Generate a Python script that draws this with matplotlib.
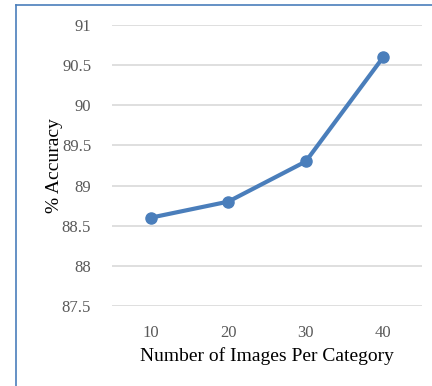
import matplotlib
matplotlib.use("Agg")
import matplotlib.pyplot as plt
from matplotlib.lines import Line2D

categories = ["10", "20", "30", "40"]
accuracy = [88.6, 88.8, 89.3, 90.6]
yticks = [87.5, 88, 88.5, 89, 89.5, 90, 90.5, 91]
ytick_labels = ["87.5", "88", "88.5", "89", "89.5", "90", "90.5", "91"]

plt.rcParams['font.family'] = ['Liberation Serif', 'DejaVu Serif']

W, H = 432, 386
fig = plt.figure(figsize=(W/100, H/100), dpi=100)
ax = fig.add_axes([112/W, 1-306/H, (422-112)/W, (306-25)/H])

x = range(len(categories))
ax.plot(x, accuracy, color='#4a7ebb', linewidth=3, marker='o', markersize=8,
        solid_capstyle='round', zorder=3)
ax.set_xlim(-0.5, len(categories)-0.5)
ax.set_ylim(87.5, 91)
ax.set_xticks(list(x))
ax.set_xticklabels(categories)
ax.set_yticks(yticks)
ax.set_yticklabels(ytick_labels)
ax.grid(axis='y', color='#d9d9d9', linewidth=1.2)
ax.set_axisbelow(True)
for s in ax.spines.values():
    s.set_visible(False)
ax.tick_params(axis='both', length=0, labelsize=12, colors='#595959')
ax.tick_params(axis='y', pad=15)
ax.tick_params(axis='x', pad=14)
ax.set_xlabel("Number of Images Per Category", fontsize=14, color='#000000', labelpad=4)
ax.set_ylabel("% Accuracy", fontsize=14, color='#000000', labelpad=-1)

bc = '#4a7ebb'
fig.add_artist(Line2D([15.5/W, 15.5/W], [0, 1-5/H], color=bc, linewidth=1.2, transform=fig.transFigure))
fig.add_artist(Line2D([15.5/W, 1], [1-5/H, 1-5/H], color=bc, linewidth=1.2, transform=fig.transFigure))

fig.savefig("out.png", dpi=100)
